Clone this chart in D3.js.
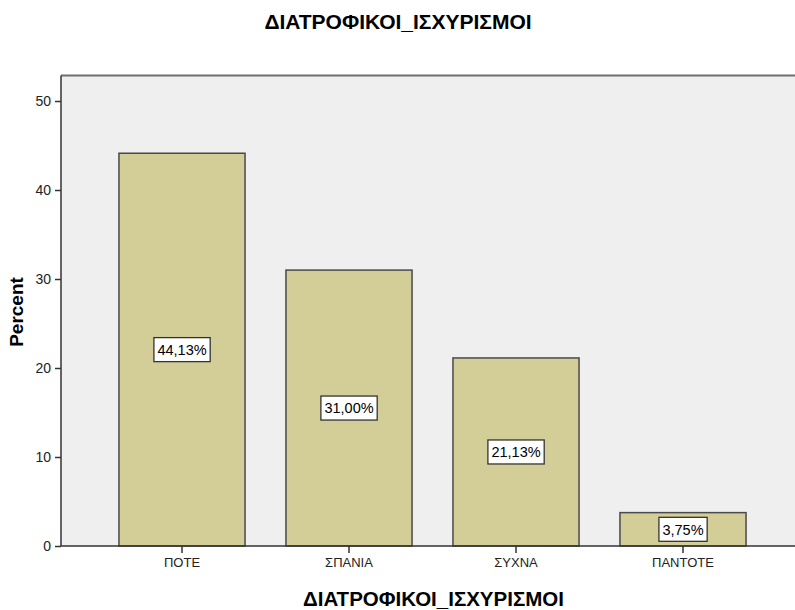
<!DOCTYPE html>
<html><head><meta charset="utf-8">
<script src="https://cdn.jsdelivr.net/npm/d3@7"></script>
<style>body{margin:0;background:#fff;} svg{display:block;font-family:"Liberation Sans",Arial,sans-serif;}</style>
</head><body>
<svg id="c" width="795" height="610"></svg>
<script>
const categories = ["ΠΟΤΕ", "ΣΠΑΝΙΑ", "ΣΥΧΝΑ", "ΠΑΝΤΟΤΕ"];
const percents = [44.13, 31.00, 21.13, 3.75];
const valueLabels = ["44,13%", "31,00%", "21,13%", "3,75%"];
const yTicks = [0, 10, 20, 30, 40, 50];
const title = "ΔΙΑΤΡΟΦΙΚΟΙ_ΙΣΧΥΡΙΣΜΟΙ";
const xTitle = "ΔΙΑΤΡΟΦΙΚΟΙ_ΙΣΧΥΡΙΣΜΟΙ";
const yTitle = "Percent";

(function () {
const svg = d3.select("#c");
const pLeft = 61, pTop = 75.5, pBottom = 546, pRight = 796;

const y = d3.scaleLinear().domain([0, 50]).range([pBottom, 101]);
const x = d3.scaleBand().domain(categories).range([98.5, 766.5]).paddingInner(0.245).paddingOuter(0.1225);

svg.append("rect").attr("x", pLeft).attr("y", pTop).attr("width", pRight - pLeft).attr("height", pBottom - pTop).attr("fill", "#efefef");
svg.append("line").attr("x1", pLeft).attr("x2", pRight).attr("y1", pTop).attr("y2", pTop).attr("stroke", "#6e6e6e").attr("stroke-width", 2);

svg.selectAll("rect.bar").data(categories).enter().append("rect").attr("class", "bar")
  .attr("x", d => x(d)).attr("width", x.bandwidth())
  .attr("y", (d, i) => y(percents[i])).attr("height", (d, i) => pBottom - y(percents[i]))
  .attr("fill", "#d3ce97").attr("stroke", "#4a4a4a").attr("stroke-width", 1.5);

const yAxis = svg.append("g").attr("transform", `translate(${pLeft},0)`)
  .call(d3.axisLeft(y).tickValues(yTicks).tickSize(6).tickPadding(4));
yAxis.select(".domain").attr("d", `M0,${pTop}V${pBottom}`).attr("stroke", "#333").attr("stroke-width", 1.5);
yAxis.selectAll(".tick line").attr("stroke", "#333").attr("stroke-width", 1.5);
yAxis.selectAll("text").attr("font-size", 14).attr("fill", "#222").attr("font-family", "Liberation Sans, Arial, sans-serif");

const xAxis = svg.append("g").attr("transform", `translate(0,${pBottom})`)
  .call(d3.axisBottom(x).tickSize(7).tickPadding(5));
xAxis.select(".domain").attr("d", `M${pLeft},0H${pRight}`).attr("stroke", "#333").attr("stroke-width", 1.5);
xAxis.selectAll(".tick line").attr("stroke", "#333").attr("stroke-width", 1.5);
xAxis.selectAll("text").attr("font-size", 13).attr("fill", "#222").attr("font-family", "Liberation Sans, Arial, sans-serif");

const lg = svg.selectAll("g.lab").data(categories).enter().append("g").attr("class", "lab")
  .attr("transform", (d, i) => `translate(${x(d) + x.bandwidth() / 2},${(y(percents[i]) + pBottom) / 2})`);
lg.each(function (d, i) {
  const g = d3.select(this);
  const t = g.append("text").attr("text-anchor", "middle").attr("dy", "0.36em").attr("font-size", 14.5).attr("fill", "#000").text(valueLabels[i]);
  const bb = t.node().getBBox();
  g.insert("rect", "text").attr("x", bb.x - 3.5).attr("y", -12).attr("width", bb.width + 7).attr("height", 24)
    .attr("fill", "#fff").attr("stroke", "#333").attr("stroke-width", 1.3);
});

svg.append("text").attr("x", 398).attr("y", 29).attr("text-anchor", "middle").attr("font-size", 21).attr("font-weight", "bold").text(title);
svg.append("text").attr("x", 433.5).attr("y", 606).attr("text-anchor", "middle").attr("font-size", 20.5).attr("font-weight", "bold").text(xTitle);
svg.append("text").attr("transform", "translate(23,312) rotate(-90)").attr("text-anchor", "middle").attr("font-size", 19).attr("font-weight", "bold").text(yTitle);
})();
</script>
</body></html>
